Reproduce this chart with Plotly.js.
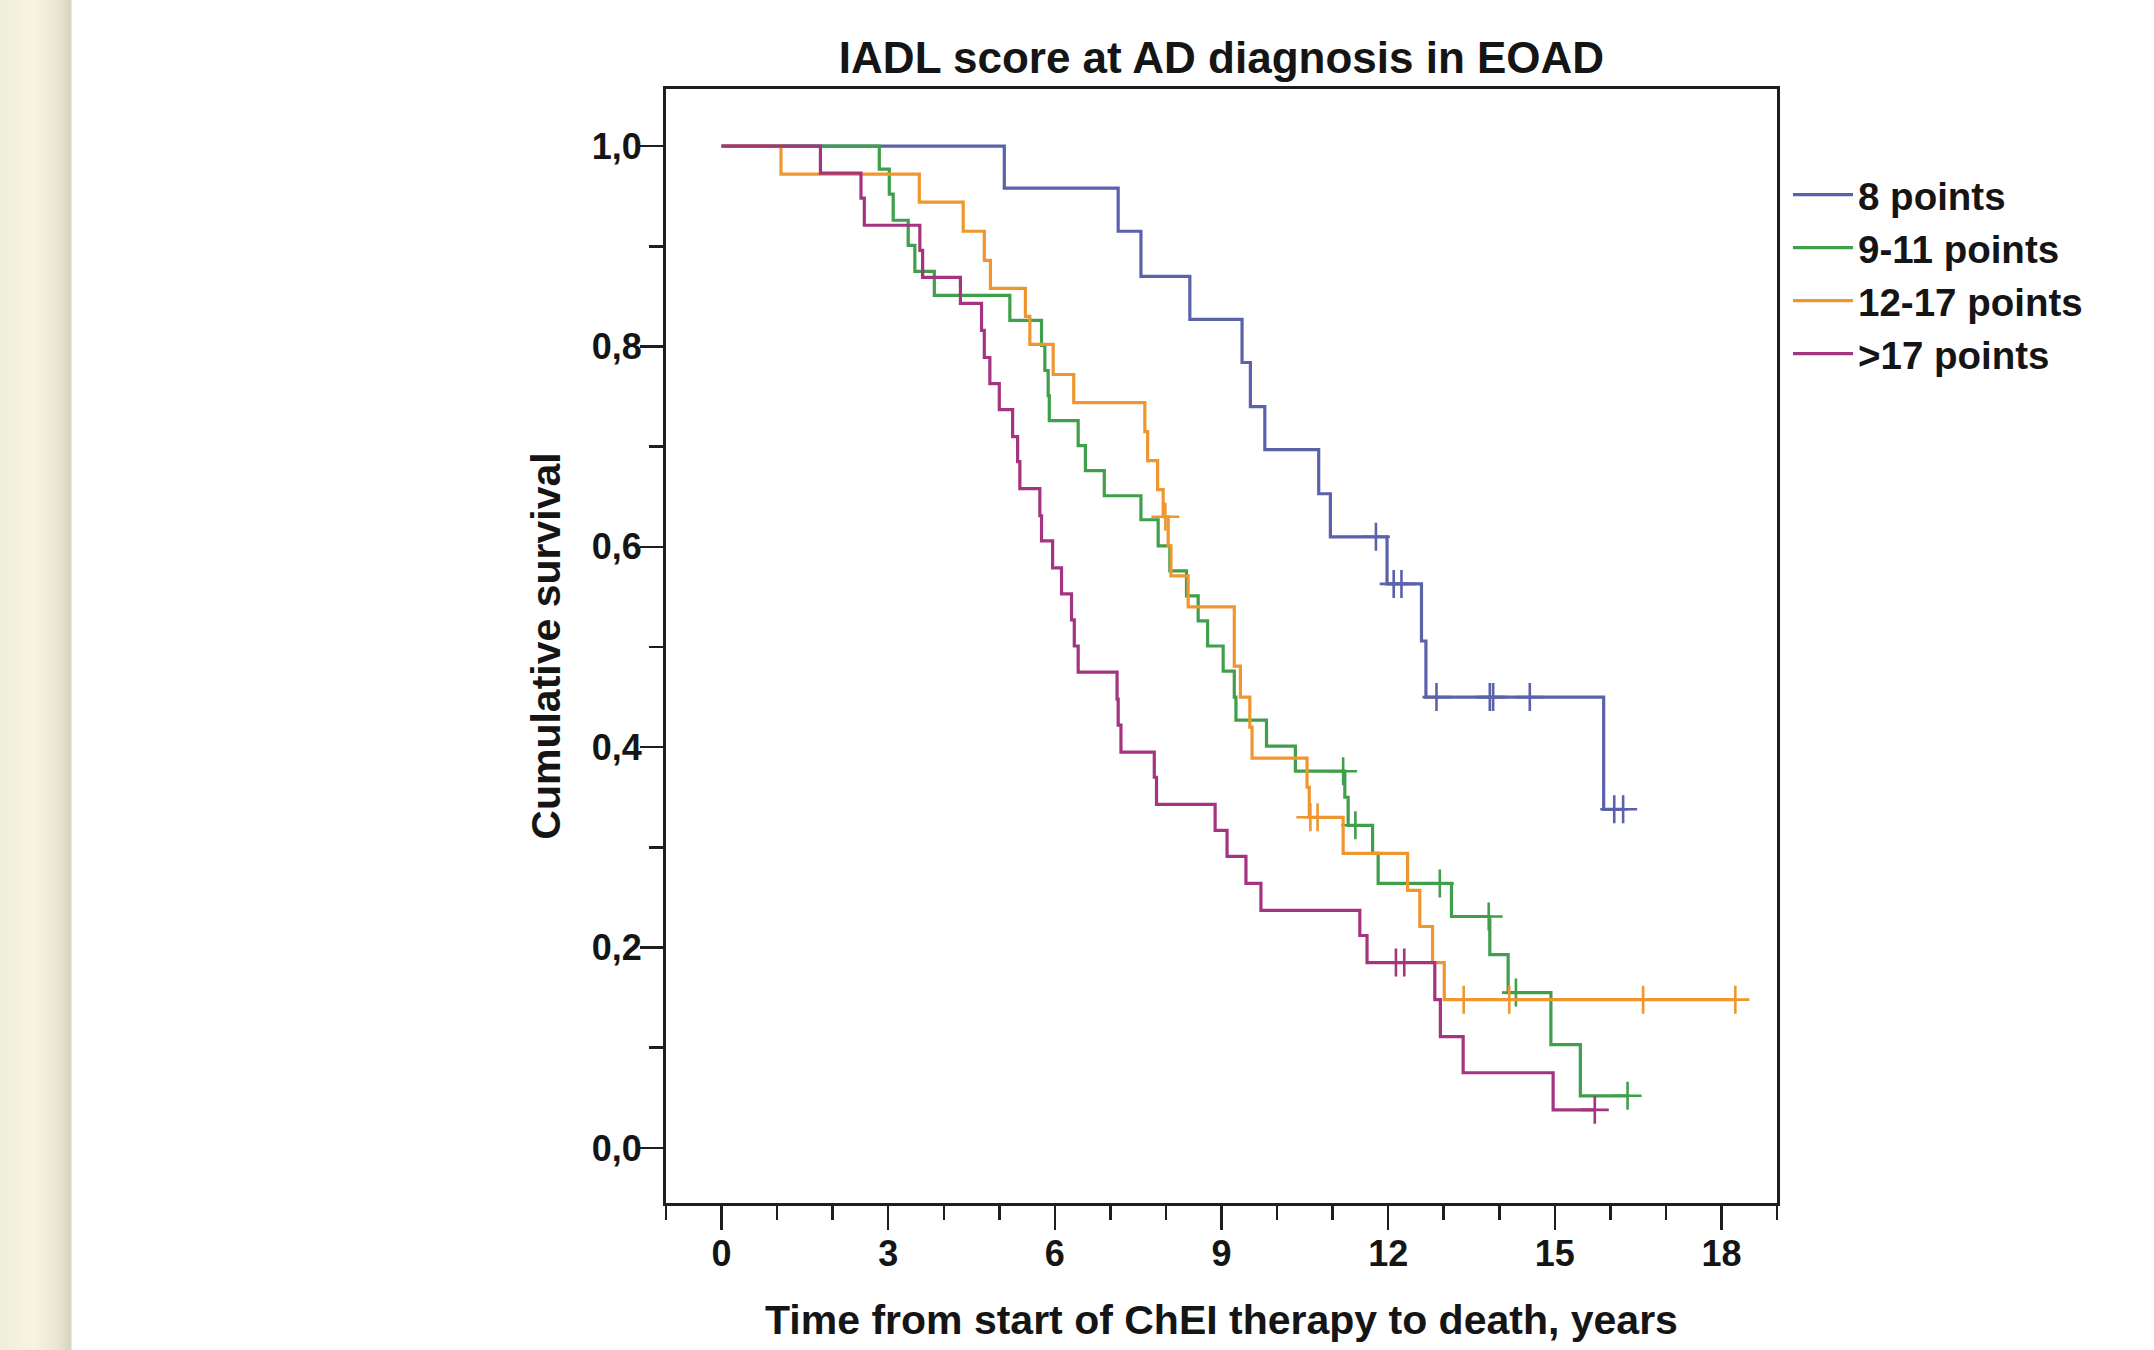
<!DOCTYPE html>
<html>
<head>
<meta charset="utf-8">
<script src="https://cdn.plot.ly/plotly-3.0.1.min.js"></script>
<style>
  html, body { margin: 0; padding: 0; width: 2154px; height: 1350px; overflow: hidden;
    background: linear-gradient(to right, #efeed9 0px, #f7f5e2 35px, #e6e4cf 60px, #d6d5bf 71px, #ffffff 72px, #ffffff 100%); }
  #chart { width: 2154px; height: 1350px; }
</style>
</head>
<body>
<div id="chart"></div>
<script>
// ---- Data (years, cumulative survival) ----
const seriesNames = ['8 points', '9-11 points', '12-17 points', '>17 points'];
const seriesColors = ['#5a62a9', '#3f9f4b', '#ef962f', '#a4347f'];

const blueTimes = [0, 5.09, 7.14, 7.55, 8.43, 9.37, 9.52, 9.78, 10.75, 10.96, 11.98, 12.60, 12.68, 15.88];
const blueSurv  = [1.0, 0.958, 0.915, 0.870, 0.827, 0.784, 0.740, 0.697, 0.653, 0.610, 0.563, 0.506, 0.450, 0.338];
const blueCensor = [11.78, 12.10, 12.24, 12.87, 13.83, 13.89, 14.55, 16.07, 16.23];

const greenTimes = [0, 2.84, 3.02, 3.09, 3.36, 3.48, 3.83, 5.19, 5.76, 5.82, 5.88, 5.90, 6.42, 6.55, 6.89, 7.55, 7.86, 8.07, 8.37, 8.58, 8.75, 9.03, 9.23, 9.26, 9.81, 10.33, 11.22, 11.28, 11.72, 11.82, 13.14, 13.83, 14.16, 14.93, 15.46];
const greenSurv  = [1.0, 0.977, 0.952, 0.926, 0.901, 0.875, 0.851, 0.826, 0.801, 0.776, 0.751, 0.726, 0.701, 0.676, 0.651, 0.627, 0.601, 0.576, 0.551, 0.526, 0.501, 0.476, 0.450, 0.427, 0.401, 0.376, 0.350, 0.322, 0.294, 0.264, 0.231, 0.193, 0.155, 0.103, 0.052];
const greenCensor = [11.19, 11.41, 12.93, 13.81, 14.30, 16.31];

const orangeTimes = [0, 1.07, 3.56, 4.35, 4.73, 4.84, 5.47, 5.55, 5.97, 6.34, 7.62, 7.67, 7.85, 7.95, 8.04, 8.09, 8.40, 9.23, 9.34, 9.51, 9.55, 10.54, 10.58, 11.19, 12.35, 12.57, 12.80, 13.01];
const orangeSurv  = [1.0, 0.972, 0.944, 0.915, 0.886, 0.858, 0.830, 0.802, 0.772, 0.744, 0.715, 0.686, 0.657, 0.630, 0.601, 0.571, 0.540, 0.481, 0.450, 0.420, 0.389, 0.360, 0.330, 0.294, 0.257, 0.221, 0.185, 0.148];
const orangeCensor = [7.99, 10.60, 10.73, 13.36, 14.18, 16.59, 18.25];

const magentaTimes = [0, 1.78, 2.51, 2.57, 3.57, 3.62, 4.30, 4.68, 4.73, 4.83, 5.00, 5.24, 5.33, 5.37, 5.73, 5.76, 5.96, 6.12, 6.30, 6.35, 6.42, 7.12, 7.14, 7.19, 7.79, 7.83, 8.885, 9.10, 9.44, 9.71, 11.49, 11.62, 12.84, 12.94, 13.35, 14.97];
const magentaSurv  = [1.0, 0.973, 0.948, 0.921, 0.896, 0.869, 0.843, 0.816, 0.789, 0.763, 0.737, 0.710, 0.685, 0.658, 0.631, 0.606, 0.579, 0.553, 0.527, 0.501, 0.475, 0.448, 0.422, 0.395, 0.370, 0.343, 0.317, 0.291, 0.264, 0.237, 0.212, 0.185, 0.148, 0.111, 0.075, 0.038];
const magentaCensor = [12.14, 12.29, 15.72];

const xTickVals = [0, 3, 6, 9, 12, 15, 18];
const xTickText = ['0', '3', '6', '9', '12', '15', '18'];
const yTickVals = [0, 0.2, 0.4, 0.6, 0.8, 1.0];
const yTickText = ['0,0', '0,2', '0,4', '0,6', '0,8', '1,0'];

const titleText = 'IADL score at AD diagnosis in EOAD';
const xTitleText = 'Time from start of ChEI therapy to death, years';
const yTitleText = 'Cumulative survival';

// ---- Build traces ----
const groups = [
  [blueTimes, blueSurv, blueCensor],
  [greenTimes, greenSurv, greenCensor],
  [orangeTimes, orangeSurv, orangeCensor],
  [magentaTimes, magentaSurv, magentaCensor]
];

function survAt(times, surv, t) {
  let s = surv[0];
  for (let i = 0; i < times.length; i++) { if (times[i] <= t) s = surv[i]; }
  return s;
}

const narrow = '"Liberation Sans Narrow", "Arial Narrow", "Liberation Sans", Arial, sans-serif';
const regular = '"Liberation Sans", Arial, sans-serif';

const traces = [];
groups.forEach((g, i) => {
  const [times, surv, cens] = g;
  const xs = times.slice();
  const ys = surv.slice();
  const lastC = Math.max.apply(null, cens);
  if (lastC > xs[xs.length - 1]) { xs.push(lastC); ys.push(surv[surv.length - 1]); }
  traces.push({
    type: 'scatter', mode: 'lines', name: seriesNames[i], legendgroup: 'g' + i,
    x: xs, y: ys, line: { shape: 'hv', color: seriesColors[i], width: 3.2 },
    hoverinfo: 'skip'
  });
  traces.push({
    type: 'scatter', mode: 'markers', name: seriesNames[i] + ' censored', legendgroup: 'g' + i,
    showlegend: false,
    x: cens, y: cens.map(t => survAt(times, surv, t)),
    marker: { symbol: 'cross-thin', size: 20, color: seriesColors[i], line: { color: seriesColors[i], width: 2.6 } },
    hoverinfo: 'skip'
  });
});

const axisColor = '#1e1e1e';
const layout = {
  width: 2154, height: 1350,
  margin: { l: 666, r: 377, t: 89, b: 147 },
  paper_bgcolor: 'rgba(0,0,0,0)',
  plot_bgcolor: '#ffffff',
  showlegend: true,
  title: {
    text: titleText, x: 0.5, xref: 'paper', xanchor: 'center',
    y: 1 - 58 / 1350, yref: 'container', yanchor: 'middle',
    font: { family: narrow, size: 44, color: '#151515', weight: 700 }
  },
  xaxis: {
    range: [-1, 19], tickmode: 'array', tickvals: xTickVals, ticktext: xTickText,
    ticks: 'outside', ticklen: 24, tickwidth: 2.5, tickcolor: axisColor,
    showline: true, linewidth: 3, linecolor: axisColor, mirror: true,
    showgrid: false, zeroline: false, ticklabelstandoff: -7,
    tickfont: { family: regular, size: 36, color: '#151515', weight: 700 },
    minor: { dtick: 1, tick0: 0, ticks: 'outside', ticklen: 14, tickwidth: 2.5, tickcolor: axisColor, showgrid: false },
    title: { text: xTitleText, standoff: 33, font: { family: narrow, size: 41, color: '#151515', weight: 700 } },
    automargin: false
  },
  yaxis: {
    range: [-0.055, 1.057], tickmode: 'array', tickvals: yTickVals, ticktext: yTickText,
    ticks: 'outside', ticklen: 23, tickwidth: 2.5, tickcolor: axisColor,
    showline: true, linewidth: 3, linecolor: axisColor, mirror: true,
    showgrid: false, zeroline: false, ticklabelstandoff: -9,
    tickfont: { family: regular, size: 36, color: '#151515', weight: 700 },
    minor: { dtick: 0.1, tick0: 0, ticks: 'outside', ticklen: 14, tickwidth: 2.5, tickcolor: axisColor, showgrid: false },
    title: { text: yTitleText, standoff: 19, font: { family: narrow, size: 41, color: '#151515', weight: 700 } },
    automargin: false
  },
  legend: {
    x: 1788 / 2154, xref: 'container', xanchor: 'left',
    y: 1 - 163 / 1350, yref: 'container', yanchor: 'top',
    bgcolor: 'rgba(0,0,0,0)', borderwidth: 0, itemwidth: 60,
    font: { family: regular, size: 38.5, color: '#151515', weight: 700 },
    tracegroupgap: 0
  }
};

Plotly.newPlot('chart', traces, layout, { staticPlot: true, displayModeBar: false });
</script>
</body>
</html>
